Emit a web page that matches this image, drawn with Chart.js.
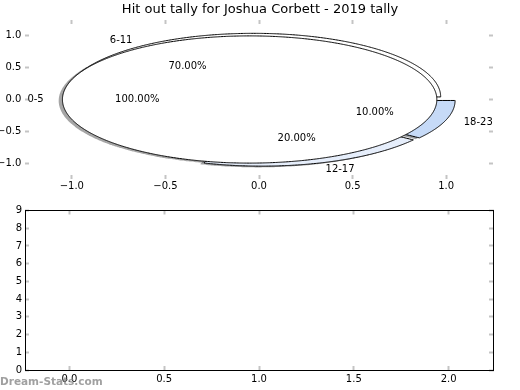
<!DOCTYPE html>
<html>
<head>
<meta charset="utf-8">
<script src="https://cdn.jsdelivr.net/npm/chart.js@4.4.0/dist/chart.umd.min.js"></script>
<style>
  body { margin: 0; background: #fff; }
  #wrap { position: relative; width: 520px; height: 390px; overflow: hidden; }
  canvas { position: absolute; left: 0; }
  #pie { top: 0; }
  #lower { top: 200px; }
  #mark { position: absolute; left: 0; top: 375px; font: bold 10.5px 'DejaVu Sans', sans-serif; line-height: 12px; color: rgba(128,128,128,0.75); white-space: nowrap; }
</style>
</head>
<body>
<div id="wrap">
  <canvas id="pie" width="520" height="200"></canvas>
  <canvas id="lower" width="520" height="190"></canvas>
  <div id="mark">Dream-Stats.com</div>
</div>
<script>
// Hit out tally by time bucket (shares as printed on the pie)
const categories = ['0-5', '6-11', '12-17', '18-23'];
const shares = [1.0, 0.7, 0.2, 0.1];
const wedgeColors = ['#ffffff', '#ffffff', '#e6eefb', '#c6daf7'];
const explode = 0.05;

// Tick values
const pieTicks = [-1.0, -0.5, 0.0, 0.5, 1.0];
const lowerXTicks = [0.0, 0.5, 1.0, 1.5, 2.0];
const lowerYTicks = [0, 1, 2, 3, 4, 5, 6, 7, 8, 9];

const font = { family: 'DejaVu Sans', size: 10 };
const tickGrey = '#c4c4c4';

function fmt(v, d) {
  return (v < 0 ? '\u2212' : '') + Math.abs(v).toFixed(d);
}

// wedge angles work like a pie that starts at 3 o'clock and runs anticlockwise
let turn = 0;
const wedges = shares.map(v => {
  const t1 = turn;
  const t2 = turn + v * 360;
  turn = t2;
  const mid = (t1 + t2) / 2 * Math.PI / 180;
  return { t1, t2, mid, cx: explode * Math.cos(mid), cy: explode * Math.sin(mid) };
});

function outline(w, dx, dy) {
  const pts = [];
  const full = w.t2 - w.t1 >= 360;
  if (!full) pts.push({ x: w.cx + dx, y: w.cy + dy });
  const n = Math.ceil(w.t2 - w.t1);
  for (let i = 0; i <= n; i++) {
    const a = (w.t1 + (w.t2 - w.t1) * i / n) * Math.PI / 180;
    pts.push({ x: w.cx + dx + Math.cos(a), y: w.cy + dy + Math.sin(a) });
  }
  pts.push(pts[0]);
  return pts;
}

function shade(hex) {
  const n = parseInt(hex.slice(1), 16);
  const r = (n >> 16) & 255, g = (n >> 8) & 255, b = n & 255;
  return `rgba(${Math.round(r * 0.3)},${Math.round(g * 0.3)},${Math.round(b * 0.3)},0.5)`;
}

const wedgeSets = wedges.map((w, i) => ({
  label: categories[i],
  data: outline(w, 0, 0),
  showLine: true,
  fill: 'shape',
  backgroundColor: wedgeColors[i],
  borderColor: '#000',
  borderWidth: 1,
  pointRadius: 0,
  tension: 0.000001
}));

const shadowSets = wedges.map((w, i) => ({
  label: categories[i] + ' shadow',
  data: outline(w, -0.02, -0.02),
  showLine: true,
  fill: 'shape',
  backgroundColor: shade(wedgeColors[i]),
  borderColor: 'rgba(0,0,0,0)',
  borderWidth: 1,
  pointRadius: 0,
  tension: 0.000001
}));

// Labels round the pie
const pieText = {
  id: 'pieText',
  afterDatasetsDraw(chart) {
    const { ctx, scales: { x, y } } = chart;
    ctx.save();
    ctx.font = '10px "DejaVu Sans"';
    ctx.fillStyle = '#000';
    ctx.textBaseline = 'middle';
    wedges.forEach((w, i) => {
      const lx = w.cx + 1.1 * Math.cos(w.mid);
      const ly = w.cy + 1.1 * Math.sin(w.mid);
      ctx.textAlign = lx > 0 ? 'left' : 'right';
      ctx.fillText(categories[i], x.getPixelForValue(lx), y.getPixelForValue(ly));
      const px = w.cx + 0.6 * Math.cos(w.mid);
      const py = w.cy + 0.6 * Math.sin(w.mid);
      ctx.textAlign = 'center';
      ctx.fillText((shares[i] * 100).toFixed(2) + '%', x.getPixelForValue(px), y.getPixelForValue(py));
    });
    ctx.restore();
  }
};

function axis(position, min, max, tickList, size, opts) {
  const horizontal = position === 'top' || position === 'bottom';
  return {
    type: 'linear',
    position: position,
    min: min,
    max: max,
    bounds: 'data',
    afterBuildTicks: s => { s.ticks = tickList.map(v => ({ value: v })); },
    afterFit: s => {
      if (horizontal) s.height = size; else s.width = size;
      // keep the axes box where it is, labels may hang over
      s.paddingTop = 0; s.paddingBottom = 0; s.paddingLeft = 0; s.paddingRight = 0;
    },
    border: { display: opts.frame, color: '#000', width: 1 },
    grid: { drawOnChartArea: false, drawTicks: true, tickLength: -4, tickColor: tickGrey, tickWidth: 2 },
    ticks: {
      display: opts.labels,
      autoSkip: false,
      maxRotation: 0,
      padding: opts.pad || 0,
      color: '#000',
      font: font,
      callback: v => fmt(v, opts.digits || 0)
    }
  };
}

// Top panel: the pie, stretched to the axes box
new Chart(document.getElementById('pie'), {
  type: 'scatter',
  data: { datasets: wedgeSets.concat(shadowSets) },
  options: {
    responsive: false,
    animation: false,
    devicePixelRatio: 1,
    events: [],
    layout: { padding: 0 },
    plugins: {
      legend: { display: false },
      tooltip: { enabled: false },
      title: {
        display: true,
        text: 'Hit out tally for Joshua Corbett - 2019 tally',
        color: '#000',
        font: { family: 'DejaVu Sans', size: 13, weight: 'normal' },
        padding: { top: 2.2, bottom: 2.2 }
      }
    },
    scales: {
      x: axis('bottom', -1.25, 1.25, pieTicks, 21, { frame: false, labels: true, pad: 5.2, digits: 1 }),
      x2: axis('top', -1.25, 1.25, pieTicks, 0, { frame: false, labels: false }),
      y: axis('left', -1.25, 1.25, pieTicks, 25, { frame: false, labels: true, pad: 7.7, digits: 1 }),
      y2: axis('right', -1.25, 1.25, pieTicks, 27, { frame: false, labels: false })
    }
  },
  plugins: [pieText]
});

// Bottom panel: empty axes
new Chart(document.getElementById('lower'), {
  type: 'scatter',
  data: { datasets: [] },
  options: {
    responsive: false,
    animation: false,
    devicePixelRatio: 1,
    events: [],
    layout: { padding: 0 },
    plugins: { legend: { display: false }, tooltip: { enabled: false } },
    scales: {
      x: axis('bottom', -0.234, 2.234, lowerXTicks, 20, { frame: true, labels: true, pad: 7.5, digits: 1 }),
      x2: axis('top', -0.234, 2.234, lowerXTicks, 10.5, { frame: true, labels: false }),
      y: axis('left', 0, 9, lowerYTicks, 25, { frame: true, labels: true, pad: 7, digits: 0 }),
      y2: axis('right', 0, 9, lowerYTicks, 27, { frame: true, labels: false })
    }
  }
});
</script>
</body>
</html>
